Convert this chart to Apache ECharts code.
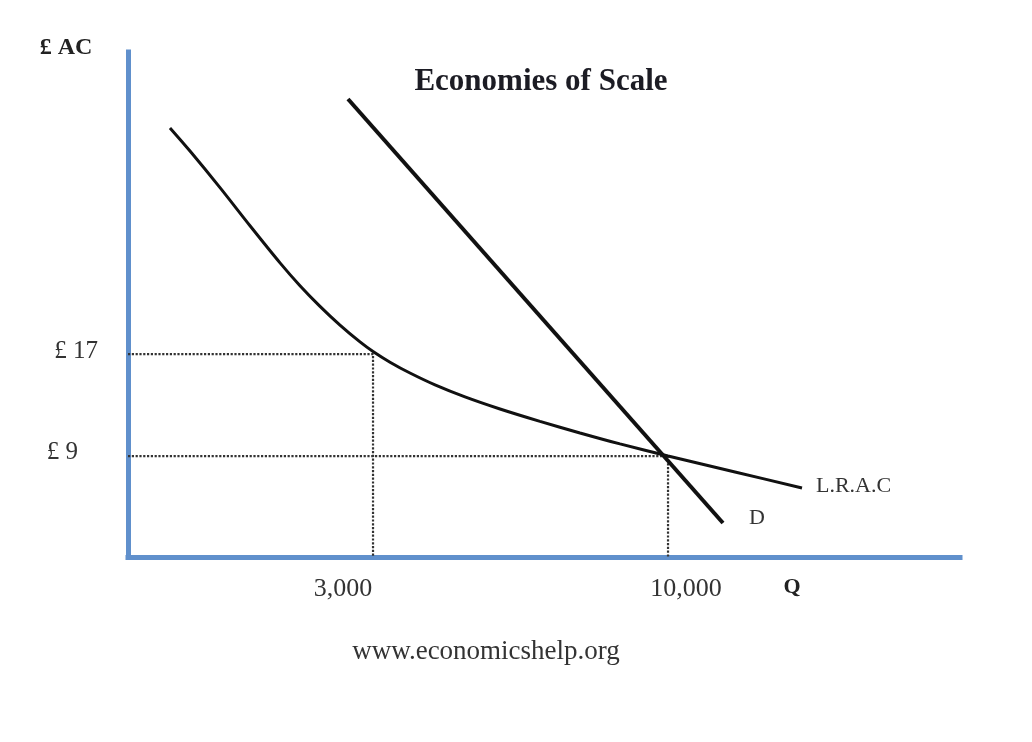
<!DOCTYPE html>
<html>
<head>
<meta charset="utf-8">
<title>Economies of Scale</title>
<script src="https://cdn.jsdelivr.net/npm/echarts@6/dist/echarts.min.js"></script>
<style>
  html, body { margin: 0; padding: 0; background: #fff; }
  #chart { width: 1032px; height: 742px; }
</style>
</head>
<body>
<div id="chart"></div>
<script>
// long run average cost curve (quantity, £ per unit)
var lracQ = [-1818, -1343, -631, 81, 793, 1267, 1742, 2216, 2691, 3000, 3403, 3877, 4471, 5182, 6013, 6962, 7911, 8860, 10000, 11589, 13179];
var lracCost = [34.73, 32.92, 30.05, 27.06, 24.15, 22.36, 20.74, 19.27, 17.95, 17.2, 16.36, 15.51, 14.58, 13.64, 12.69, 11.72, 10.81, 9.95, 9, 7.75, 6.49];

// demand line, two end points
var demandQ = [2406, 11304];
var demandPrice = [37.0, 3.75];

// marked output levels and their costs
var markedQ = [3000, 10000];
var markedCost = [17, 9];
var xTickLabels = ['3,000', '10,000'];
var yTickLabels = ['£ 17', '£ 9'];

// axis range (schematic, axes don't start at zero)
var xMin = -2814, xMax = 16928;
var yMin = 1.08, yMax = 40.69;

var axisBlue = '#6090cc';
var serif = '"Liberation Serif", "DejaVu Serif", serif';

function pairs(xs, ys) {
    var out = [];
    for (var i = 0; i < xs.length; i++) {
        out.push([xs[i], ys[i]]);
    }
    return out;
}

// dotted guides: from the y axis across to the curve, then down to the x axis
var guideSeries = [];
for (var i = 0; i < markedQ.length; i++) {
    guideSeries.push({
        type: 'line',
        silent: true,
        showSymbol: false,
        z: 1,
        data: [[xMin, markedCost[i]], [markedQ[i], markedCost[i]], [markedQ[i], yMin]],
        lineStyle: { color: '#333', width: 2.2, type: [2.2, 1.6] }
    });
}

var chart = echarts.init(document.getElementById('chart'));
chart.setOption({
    animation: false,
    backgroundColor: '#fff',
    grid: { left: 128, right: 72, top: 52, bottom: 185 },
    xAxis: {
        type: 'value',
        min: xMin,
        max: xMax,
        splitLine: { show: false },
        axisLine: { onZero: false, lineStyle: { color: axisBlue, width: 5, cap: 'square' } },
        axisTick: { show: false },
        axisLabel: {
            customValues: markedQ,
            margin: 19,
            fontFamily: serif,
            fontSize: 26,
            color: '#333',
            formatter: function(v) {
                var idx = markedQ.indexOf(v);
                return '{q' + idx + '|' + xTickLabels[idx] + '}';
            },
            rich: {
                q0: { fontFamily: serif, fontSize: 26, color: '#333', padding: [0, 60, 0, 0] },
                q1: { fontFamily: serif, fontSize: 26, color: '#333', padding: [0, 0, 0, 36] }
            }
        }
    },
    yAxis: {
        type: 'value',
        min: yMin,
        max: yMax,
        splitLine: { show: false },
        axisLine: { onZero: false, lineStyle: { color: axisBlue, width: 5, cap: 'square' } },
        axisTick: { show: false },
        axisLabel: {
            customValues: markedCost,
            margin: 30,
            fontFamily: serif,
            fontSize: 25,
            color: '#333',
            formatter: function(v) {
                var idx = markedCost.indexOf(v);
                return '{c' + idx + '|' + yTickLabels[idx] + '}';
            },
            rich: {
                c0: { fontFamily: serif, fontSize: 25, color: '#333', padding: [0, 0, 6, 0] },
                c1: { fontFamily: serif, fontSize: 25, color: '#333', padding: [0, 20, 8, 0] }
            }
        }
    },
    graphic: [
        { type: 'text', x: 541, y: 82, style: { text: 'Economies of Scale', font: 'bold 31px ' + serif, fill: '#1c1c24', textAlign: 'center', textVerticalAlign: 'middle' } },
        { type: 'text', x: 66, y: 48, style: { text: '£ AC', font: 'bold 24px ' + serif, fill: '#222', textAlign: 'center', textVerticalAlign: 'middle' } },
        { type: 'text', x: 792, y: 587, style: { text: 'Q', font: 'bold 22px ' + serif, fill: '#222', textAlign: 'center', textVerticalAlign: 'middle' } },
        { type: 'text', x: 486, y: 652, style: { text: 'www.economicshelp.org', font: '27px ' + serif, fill: '#333', textAlign: 'center', textVerticalAlign: 'middle' } }
    ],
    series: guideSeries.concat([
        {
            name: 'L.R.A.C',
            type: 'line',
            smooth: 0.3,
            showSymbol: false,
            z: 3,
            data: pairs(lracQ, lracCost),
            lineStyle: { color: '#111', width: 3 },
            endLabel: {
                show: true,
                formatter: '{a}',
                distance: 14,
                offset: [0, -2],
                fontFamily: serif,
                fontSize: 22,
                color: '#333'
            }
        },
        {
            name: 'D',
            type: 'line',
            showSymbol: false,
            z: 4,
            data: pairs(demandQ, demandPrice),
            lineStyle: { color: '#111', width: 4 },
            endLabel: {
                show: true,
                formatter: '{a}',
                distance: 26,
                offset: [0, -5],
                fontFamily: serif,
                fontSize: 22,
                color: '#333'
            }
        }
    ])
});
window.addEventListener('resize', function () {
    chart.resize();
});
</script>
</body>
</html>
